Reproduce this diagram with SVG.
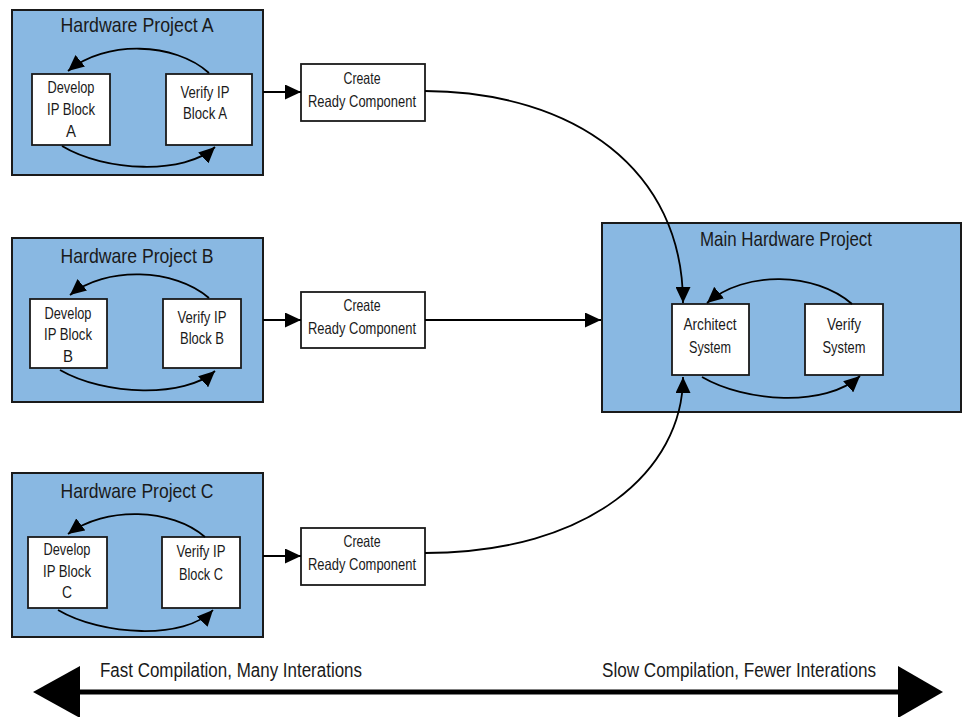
<svg xmlns="http://www.w3.org/2000/svg" width="963" height="717" viewBox="0 0 963 717">
<style>
text{font-family:"Liberation Sans",Arial,sans-serif;fill:#1a1a1a;text-anchor:middle}
.t{font-size:21px}
.s{font-size:16.5px}
.b{font-size:20px}
.proj{fill:#89b8e2;stroke:#1a1a1a;stroke-width:2}
.box{fill:#fff;stroke:#1a1a1a;stroke-width:1.8}
.c{fill:none;stroke:#000;stroke-width:1.8;marker-end:url(#ah)}
</style>
<defs>
<marker id="ah" markerUnits="userSpaceOnUse" markerWidth="16" markerHeight="15" refX="16" refY="7.5" orient="auto" viewBox="0 0 16 15">
<path d="M0,0 L16,7.5 L0,15 z" fill="#000"/>
</marker>
</defs>
<rect width="963" height="717" fill="#fff"/>

<g id="projA">
<rect class="proj" x="12" y="10" width="251" height="165"/>
<text class="t" x="137" y="32" textLength="153" lengthAdjust="spacingAndGlyphs">Hardware Project A</text>
</g>
<g id="devA">
<rect class="box" x="32" y="74" width="78" height="71"/>
<text class="s" x="71" y="93" textLength="47" lengthAdjust="spacingAndGlyphs">Develop</text>
<text class="s" x="71" y="115" textLength="48" lengthAdjust="spacingAndGlyphs">IP Block</text>
<text class="s" x="71" y="137" textLength="10" lengthAdjust="spacingAndGlyphs">A</text>
</g>
<g id="verA">
<rect class="box" x="166" y="74" width="86" height="71"/>
<text class="s" x="205" y="98" textLength="49" lengthAdjust="spacingAndGlyphs">Verify IP</text>
<text class="s" x="205" y="119" textLength="44" lengthAdjust="spacingAndGlyphs">Block A</text>
</g>
<g id="crA">
<rect class="box" x="301" y="64" width="124" height="57"/>
<text class="s" x="362" y="84" textLength="37" lengthAdjust="spacingAndGlyphs">Create</text>
<text class="s" x="362" y="107" textLength="108" lengthAdjust="spacingAndGlyphs">Ready Component</text>
</g>

<g id="projB">
<rect class="proj" x="12" y="238" width="251" height="164"/>
<text class="t" x="137" y="263" textLength="153" lengthAdjust="spacingAndGlyphs">Hardware Project B</text>
</g>
<g id="devB">
<rect class="box" x="30" y="299" width="77" height="69"/>
<text class="s" x="68" y="319" textLength="47" lengthAdjust="spacingAndGlyphs">Develop</text>
<text class="s" x="68" y="340" textLength="48" lengthAdjust="spacingAndGlyphs">IP Block</text>
<text class="s" x="68" y="362" textLength="10" lengthAdjust="spacingAndGlyphs">B</text>
</g>
<g id="verB">
<rect class="box" x="163" y="299" width="78" height="69"/>
<text class="s" x="202" y="323" textLength="49" lengthAdjust="spacingAndGlyphs">Verify IP</text>
<text class="s" x="202" y="344" textLength="44" lengthAdjust="spacingAndGlyphs">Block B</text>
</g>
<g id="crB">
<rect class="box" x="301" y="292" width="124" height="56"/>
<text class="s" x="362" y="311" textLength="37" lengthAdjust="spacingAndGlyphs">Create</text>
<text class="s" x="362" y="334" textLength="108" lengthAdjust="spacingAndGlyphs">Ready Component</text>
</g>

<g id="projC">
<rect class="proj" x="12" y="473" width="251" height="164"/>
<text class="t" x="137" y="498" textLength="153" lengthAdjust="spacingAndGlyphs">Hardware Project C</text>
</g>
<g id="devC">
<rect class="box" x="28" y="537" width="79" height="71"/>
<text class="s" x="67" y="555" textLength="47" lengthAdjust="spacingAndGlyphs">Develop</text>
<text class="s" x="67" y="577" textLength="48" lengthAdjust="spacingAndGlyphs">IP Block</text>
<text class="s" x="67" y="598" textLength="10" lengthAdjust="spacingAndGlyphs">C</text>
</g>
<g id="verC">
<rect class="box" x="162" y="537" width="78" height="71"/>
<text class="s" x="201" y="557" textLength="49" lengthAdjust="spacingAndGlyphs">Verify IP</text>
<text class="s" x="201" y="580" textLength="44" lengthAdjust="spacingAndGlyphs">Block C</text>
</g>
<g id="crC">
<rect class="box" x="301" y="528" width="124" height="57"/>
<text class="s" x="362" y="547" textLength="37" lengthAdjust="spacingAndGlyphs">Create</text>
<text class="s" x="362" y="570" textLength="108" lengthAdjust="spacingAndGlyphs">Ready Component</text>
</g>

<g id="main">
<rect class="proj" x="602" y="223" width="359" height="189"/>
<text class="t" x="786" y="246" textLength="172" lengthAdjust="spacingAndGlyphs">Main Hardware Project</text>
</g>
<g id="arch">
<rect class="box" x="672" y="304" width="77" height="71"/>
<text class="s" x="710" y="330" textLength="53" lengthAdjust="spacingAndGlyphs">Architect</text>
<text class="s" x="710" y="353" textLength="42" lengthAdjust="spacingAndGlyphs">System</text>
</g>
<g id="vsys">
<rect class="box" x="805" y="304" width="78" height="71"/>
<text class="s" x="844" y="330" textLength="34" lengthAdjust="spacingAndGlyphs">Verify</text>
<text class="s" x="844" y="353" textLength="43" lengthAdjust="spacingAndGlyphs">System</text>
</g>

<g id="connectors">
<path class="c" d="M209,73 C175,42 105,40 68,71"/>
<path class="c" d="M62,146 C105,172 185,175 215,147"/>
<path class="c" d="M209,298 C175,268 105,266 70,295"/>
<path class="c" d="M60,370 C105,396 185,398 215,371"/>
<path class="c" d="M205,537 C172,508 105,506 68,534"/>
<path class="c" d="M58,610 C102,636 185,640 213,610"/>
<path class="c" d="M852,304 C815,272 745,270 707,303"/>
<path class="c" d="M702,377 C745,402 825,408 860,376"/>
<path class="c" d="M263,92 L301,92"/>
<path class="c" d="M263,320 L301,320"/>
<path class="c" d="M263,556 L301,556"/>
<path class="c" d="M425,320 L601,320"/>
<path class="c" d="M425,91 C575,92 683,170 683,303"/>
<path class="c" d="M425,553 C590,553 683,470 683,377"/>
</g>

<g id="scale">
<line x1="78" y1="692" x2="900" y2="692" stroke="#000" stroke-width="5"/>
<polygon points="33,692 80,666 80,718" fill="#000"/>
<polygon points="943,692 898,666 898,718" fill="#000"/>
<text class="b" x="231" y="677" textLength="262" lengthAdjust="spacingAndGlyphs">Fast Compilation, Many Interations</text>
<text class="b" x="739" y="677" textLength="274" lengthAdjust="spacingAndGlyphs">Slow Compilation, Fewer Interations</text>
</g>
</svg>
